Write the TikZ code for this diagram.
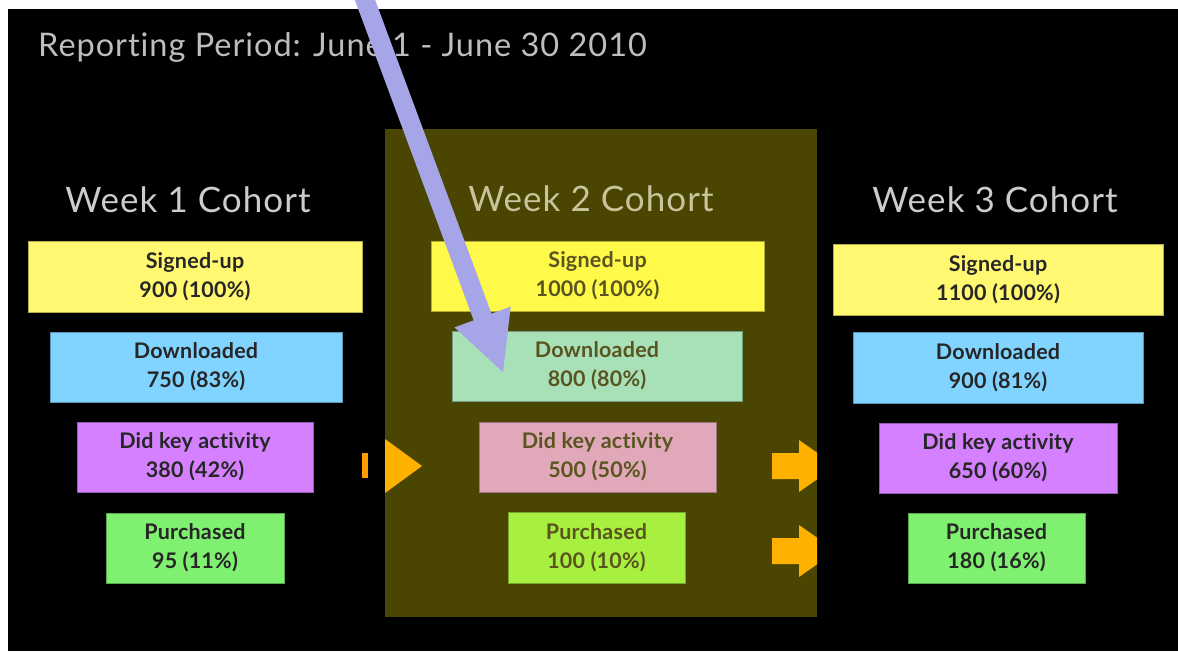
\documentclass[tikz,border=0pt]{standalone}
\usepackage{fontspec}
\setmainfont{Lato}[RawFeature=-liga]
\newfontfamily\titlefont{Lato}[LetterSpace=3,RawFeature=-liga]
\newfontfamily\boxfont{Lato}[LetterSpace=1,RawFeature=-liga]
\definecolor{slidebg}{HTML}{000000}
\definecolor{panel}{HTML}{4A4500}
\definecolor{titlegray}{HTML}{BDBDBD}
\definecolor{weekgray}{HTML}{CCCCCC}
\definecolor{weektwo}{HTML}{C8C39A}
\definecolor{boxtext}{HTML}{262626}
\definecolor{boxtexttwo}{HTML}{5A5520}
\definecolor{cyel}{HTML}{FFF870}
\definecolor{cblue}{HTML}{80D4FF}
\definecolor{cpurp}{HTML}{D580FF}
\definecolor{cgreen}{HTML}{80F070}
\definecolor{cyeltwo}{HTML}{FFF94A}
\definecolor{cmint}{HTML}{A8E0B8}
\definecolor{cpink}{HTML}{E0A8B8}
\definecolor{clime}{HTML}{A8F040}
\definecolor{corange}{HTML}{FFB100}
\definecolor{corangedark}{HTML}{FF9A00}
\definecolor{clav}{HTML}{A5A5E8}
\begin{document}
\begin{tikzpicture}[x=1pt,y=-1pt,
  box/.style={fill=#1, draw=#1!70!black, line width=1pt, inner sep=0pt,
    minimum height=70pt, align=center, text=boxtext,
    font=\boxfont\bfseries\fontsize{21.5}{29}\selectfont},
  boxtwo/.style={box=#1, text=boxtexttwo},
  weektitle/.style={anchor=base, text=weekgray, font=\titlefont\fontsize{35}{38}\selectfont},
  orangearrow/.style={fill=corange}]
\useasboundingbox (0,0) rectangle (1178,651);
\fill[white] (0,0) rectangle (1178,651);
\fill[slidebg] (8,9) rectangle (1178,651);
% title
\node[anchor=base west, inner sep=0pt, text=titlegray, font=\titlefont\fontsize{32.5}{36}\selectfont] (title) at (38,56) {Reporting Period: June 1 - June 30 2010};
% week 2 panel
\fill[panel] (385,129) rectangle (817,617);
% week titles
\node[weektitle] (w1) at (188,212) {Week 1 Cohort};
\node[weektitle, text=weektwo] (w2) at (591,211) {Week 2 Cohort};
\node[weektitle] (w3) at (995,212) {Week 3 Cohort};
% week 1
\node[box=cyel, minimum width=334pt, minimum height=71pt] (w1su) at (195,276.5) {Signed-up\\900 (100\%)};
\node[box=cblue, minimum width=292pt] (w1dl) at (196,367) {Downloaded\\750 (83\%)};
\node[box=cpurp, minimum width=236pt] (w1dk) at (195,457) {Did key activity\\380 (42\%)};
\node[box=cgreen, minimum width=178pt] (w1pu) at (195,548) {Purchased\\95 (11\%)};
% week 2
\node[boxtwo=cyeltwo, minimum width=333pt] (w2su) at (597.5,276) {Signed-up\\1000 (100\%)};
\node[boxtwo=cmint, minimum width=290pt] (w2dl) at (597,366) {Downloaded\\800 (80\%)};
\node[boxtwo=cpink, minimum width=237pt] (w2dk) at (597.5,457) {Did key activity\\500 (50\%)};
\node[boxtwo=clime, minimum width=177pt, minimum height=71pt] (w2pu) at (596.5,547.5) {Purchased\\100 (10\%)};
% week 3
\node[box=cyel, minimum width=330pt, minimum height=71pt] (w3su) at (998,279.5) {Signed-up\\1100 (100\%)};
\node[box=cblue, minimum width=290pt, minimum height=71pt] (w3dl) at (998,367.5) {Downloaded\\900 (81\%)};
\node[box=cpurp, minimum width=238pt] (w3dk) at (998,458) {Did key activity\\650 (60\%)};
\node[box=cgreen, minimum width=177pt] (w3pu) at (996.5,548) {Purchased\\180 (16\%)};
% orange arrows
\fill[corangedark] (362,453) rectangle (368,478);
\fill[orangearrow] (385,439) -- (422,466) -- (385,493) -- cycle;
\fill[orangearrow] (772,453) -- (799,453) -- (799,440) -- (817,452.6) -- (817,479.4) -- (799,492) -- (799,479) -- (772,479) -- cycle;
\fill[orangearrow] (772,538) -- (799,538) -- (799,525) -- (817,537.6) -- (817,564.4) -- (799,577) -- (799,564) -- (772,564) -- cycle;
% lavender pointer
\coordinate (ptail) at (361.3,-10);
\coordinate (ptip) at (503,372);
\fill[clav] (352.4,-6.7) -- (473.7,320.3) -- (454.5,327.4) -- (ptip) -- (510.7,306.6) -- (491.5,313.7) -- (370.2,-13.3) -- cycle;
\end{tikzpicture}
\end{document}
